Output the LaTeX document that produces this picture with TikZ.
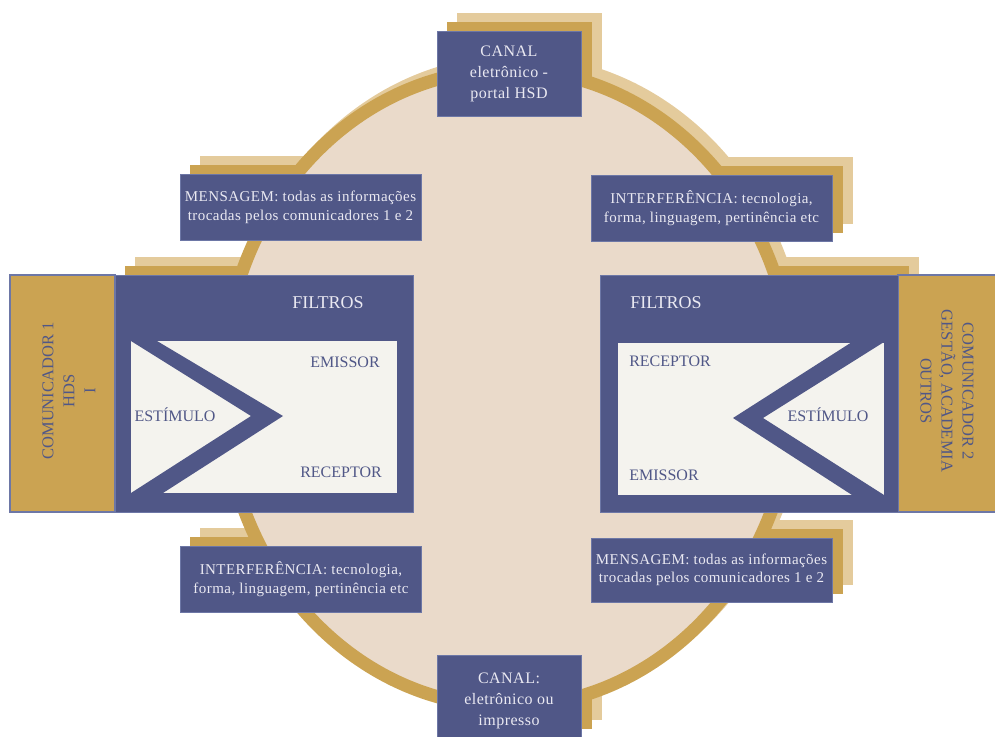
\documentclass[tikz,border=0pt]{standalone}
\usepackage{fontspec}
\setmainfont{Liberation Serif}
\newfontfamily\boxfont[LetterSpace=3]{Liberation Serif}
\usetikzlibrary{calc,positioning}

\definecolor{hsdblue}{HTML}{505787}
\definecolor{hsdedge}{HTML}{6D77A6}
\definecolor{hsdgold}{HTML}{CBA352}
\definecolor{hsdtan}{HTML}{E4CB9C}
\definecolor{hsdbeige}{HTML}{EADACA}
\definecolor{hsdpaper}{HTML}{F4F3EE}
\definecolor{hsdlight}{HTML}{EAE9F2}

\pgfdeclarelayer{back}
\pgfsetlayers{back,main}

\tikzset{
    infobox/.style={rectangle, draw=hsdedge, line width=1pt, fill=hsdblue, text=hsdlight,
                    align=center, inner sep=0pt, minimum width=241pt, minimum height=66pt,
                    font=\boxfont\fontsize{15}{18.5}\selectfont},
    canalbox/.style={infobox, minimum width=144pt, font=\boxfont\fontsize{16}{21}\selectfont},
    canaltext/.style={text=hsdlight, align=center, inner sep=0pt, font=\boxfont\fontsize{16}{21}\selectfont},
    filterbox/.style={rectangle, draw=hsdedge, line width=1pt, fill=hsdblue,
                      minimum width=298pt, minimum height=237pt},
    commbox/.style={rectangle, draw=hsdedge, line width=1.5pt, fill=hsdgold, minimum height=237pt},
    commtext/.style={text=hsdblue, align=center, inner sep=0pt, font=\fontsize{16.5}{21}\selectfont},
    innerpaper/.style={rectangle, fill=hsdpaper, minimum width=266pt, minimum height=152pt},
    filtertitle/.style={text=hsdlight, inner sep=0pt, font=\fontsize{18}{20}\selectfont},
    role/.style={text=hsdblue, inner sep=0pt, font=\fontsize{16}{20}\selectfont},
}

\begin{document}
\begin{tikzpicture}[x=1pt,y=-1pt]
    \useasboundingbox (0,0) rectangle (995,736);

    % ring
    \draw[hsdgold, line width=13pt, fill=hsdbeige] (508,388) ellipse [x radius=285.5pt, y radius=318.5pt];

    % canal, mensagem, interferencia
    \node[canalbox, minimum height=85pt] (canaltop) at (509,73.5) {CANAL\\eletrônico -\\portal HSD};
    \node[infobox] (msgleft) at (300.5,207.5) {MENSAGEM: todas as informações\\trocadas pelos comunicadores 1 e 2};
    \node[infobox] (intright) at (711.5,208) {INTERFERÊNCIA: tecnologia,\\forma, linguagem, pertinência etc};
    \node[infobox] (intleft) at (301,579) {INTERFERÊNCIA: tecnologia,\\forma, linguagem, pertinência etc};
    \node[infobox, minimum height=64pt] (msgright) at (711.5,570) {MENSAGEM: todas as informações\\trocadas pelos comunicadores 1 e 2};
    \node[canalbox, minimum height=82pt] (canalbot) at (509,696) {};
    \node[canaltext] (canalbottxt) at (509,701) {CANAL:\\eletrônico ou\\impresso};

    % comunicador 1
    \node[commbox, minimum width=105pt] (commleft) at (62.5,393.5) {};
    \node[commtext, rotate=90] (commlefttxt) at (69,391) {COMUNICADOR 1\\HDS\\I};
    \node[filterbox] (filterleft) at (264,393.5) {};
    \node[innerpaper] (paperleft) at (264,417) {};
    \fill[hsdblue] (131,341) -- (157,341) -- (283,416) -- (163,493) -- (131,493) -- (251,416) -- cycle;
    \node[filtertitle] (filtroleft) at (328,303) {FILTROS};
    \node[role] (emileft) at (345,362) {EMISSOR};
    \node[role] (estleft) at (175,415) {ESTÍMULO};
    \node[role] (recleft) at (341,472) {RECEPTOR};

    % comunicador 2
    \node[commbox, minimum width=98pt] (commright) at (947,393.5) {};
    \node[commtext, rotate=-90] (commrighttxt) at (947,391) {COMUNICADOR 2\\GESTÃO, ACADEMIA\\OUTROS};
    \node[filterbox] (filterright) at (749,393.5) {};
    \node[innerpaper] (paperright) at (751,418.5) {};
    \fill[hsdblue] (884,342) -- (852,342) -- (733,418) -- (852,495) -- (884,495) -- (763,418) -- cycle;
    \node[filtertitle] (filtroright) at (666,303) {FILTROS};
    \node[role] (recright) at (670,361) {RECEPTOR};
    \node[role] (estright) at (828,415) {ESTÍMULO};
    \node[role] (emiright) at (664,475) {EMISSOR};

    % shadows behind the ring
    \begin{pgfonlayer}{back}
        \draw[hsdtan, line width=13pt] (516,380) ellipse [x radius=285.5pt, y radius=318.5pt];
        \foreach \b in {canaltop,msgleft,intright,filterleft,filterright,intleft,msgright,canalbot}{
            \fill[hsdtan] ($(\b.south west)+(20,-18)$) rectangle ($(\b.north east)+(20,-18)$);
            \fill[hsdgold] ($(\b.south west)+(10,-9)$) rectangle ($(\b.north east)+(10,-9)$);
        }
    \end{pgfonlayer}
\end{tikzpicture}
\end{document}
